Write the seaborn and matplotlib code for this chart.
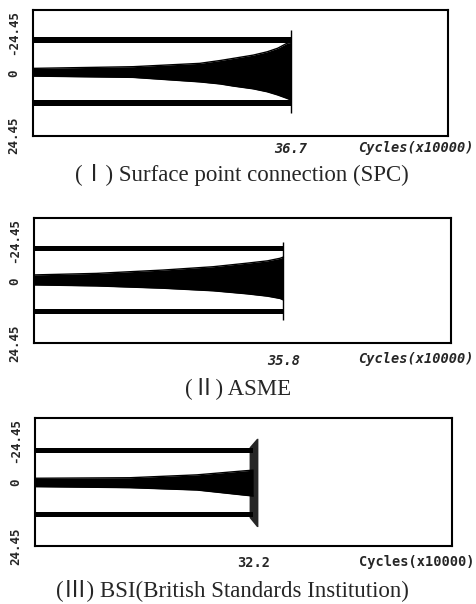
import matplotlib
matplotlib.use('Agg')
import matplotlib.pyplot as plt
import pandas as pd
import seaborn as sns

# --- data (cycles in x10000, strain trace envelopes) ---
spc_cycles = [0, 14.2, 23.7, 26.6, 28.4, 31.3, 33.3, 34.8, 36.1, 36.7]
spc_upper = [-1.75, -2.4, -3.7, -4.8, -5.6, -6.9, -8.2, -9.6, -11.5, -11.9]
spc_lower = [1.25, 1.75, 3.5, 4.3, 5.1, 6.2, 7.35, 8.6, 9.9, 10.6]
spc_top_band = [-13.8, -11.7]
spc_bottom_band = [10.6, 12.9]
spc_end_mark = [-16.6, 15.6]

asme_cycles = [0, 9.0, 18.5, 25.7, 30.6, 33.5, 35.3, 35.8]
asme_upper = [-2.3, -2.9, -4.2, -5.5, -6.9, -7.8, -8.8, -9.3]
asme_lower = [1.6, 2.0, 2.9, 3.9, 5.1, 6.0, 6.9, 7.5]
asme_top_band = [-13.8, -11.6]
asme_bottom_band = [10.9, 12.8]
asme_end_mark = [-15.3, 15.3]

bsi_cycles = [0, 14.0, 23.9, 30.7, 32.2]
bsi_upper = [-1.5, -1.7, -2.8, -4.3, -4.6]
bsi_lower = [1.7, 2.1, 3.0, 4.9, 5.3]
bsi_top_band = [-13.1, -11.1]
bsi_bottom_band = [11.4, 13.4]
bsi_flare_y = [-16.8, -13.5, 13.5, 17.0]
bsi_flare_left = [32.7, 31.6, 31.6, 32.7]
bsi_flare_right = [32.9, 32.9, 32.9, 32.9]

y_limit = 24.45
y_ticks = [-24.45, 0, 24.45]
y_tick_labels = ['-24.45', '0', '24.45']
x_unit_label = 'Cycles(x10000)'
captions = ['(Ⅰ) Surface point connection (SPC)',
            '(Ⅱ) ASME',
            '(Ⅲ) BSI(British Standards Institution)']

sns.set_style('white')
mono = 'DejaVu Sans Mono'
serif = ['Liberation Serif', 'Noto Sans CJK KR']

fig = plt.figure(figsize=(4.76, 6.04), dpi=100)

# axes boxes in figure fractions
boxes = [[0.0693, 0.7753, 0.8718, 0.2081],
         [0.0714, 0.4316, 0.8754, 0.2070],
         [0.0735, 0.0960, 0.8754, 0.2114]]
x_max = [59.0, 59.8, 61.5]
x_pad = [4.5, 7.5, 7.5]
unit_y = [0.755, 0.4056, 0.0695]
caption_pos = [(0.508, 0.710), (0.500, 0.358), (0.488, 0.023)]
italic = ['italic', 'italic', 'normal']


def draw_panel(ax, cycles, upper, lower, top_band, bottom_band, i):
    end = cycles[-1]
    for lo, hi in (top_band, bottom_band):
        ax.fill_between([0, end], lo, hi, color='black', lw=0)
    env = pd.DataFrame({'cycles': cycles, 'upper': upper, 'lower': lower})
    ax.fill_between(env['cycles'], env['upper'], env['lower'], color='black', lw=0)
    sns.lineplot(data=env, x='cycles', y='upper', ax=ax, color='black', lw=1)
    sns.lineplot(data=env, x='cycles', y='lower', ax=ax, color='black', lw=1)
    ax.set_xlabel('')
    ax.set_ylabel('')
    ax.set_xlim(0, x_max[i])
    ax.set_ylim(y_limit, -y_limit)

    ax.set_xticks([end])
    ax.set_xticklabels([f'{end:.1f}'], family=mono, fontsize=9.8,
                       fontstyle=italic[i], fontweight='bold')
    ax.set_yticks(y_ticks)
    ax.set_yticklabels(y_tick_labels, family=mono, fontsize=9, rotation=90,
                       fontweight='bold')
    for lab, va in zip(ax.get_yticklabels(), ['top', 'center', 'center']):
        lab.set_va(va)
    ax.tick_params(axis='x', length=0, pad=x_pad[i])
    ax.tick_params(axis='y', length=0, pad=9)
    for s in ax.spines.values():
        s.set_color('black')
        s.set_linewidth(1.5)

    fig.text(0.996, unit_y[i], x_unit_label, ha='right', va='center',
             family=mono, fontsize=9.8, fontstyle=italic[i], fontweight='bold')
    fig.text(caption_pos[i][0], caption_pos[i][1], captions[i], ha='center',
             va='center', family=serif, fontsize=16.5)


ax1 = fig.add_axes(boxes[0])
draw_panel(ax1, spc_cycles, spc_upper, spc_lower, spc_top_band, spc_bottom_band, 0)
ax1.vlines(spc_cycles[-1], spc_end_mark[0], spc_end_mark[1], color='black', lw=1)

ax2 = fig.add_axes(boxes[1])
draw_panel(ax2, asme_cycles, asme_upper, asme_lower, asme_top_band, asme_bottom_band, 1)
ax2.vlines(asme_cycles[-1], asme_end_mark[0], asme_end_mark[1], color='black', lw=1)

ax3 = fig.add_axes(boxes[2])
draw_panel(ax3, bsi_cycles, bsi_upper, bsi_lower, bsi_top_band, bsi_bottom_band, 2)
ax3.fill_betweenx(bsi_flare_y, bsi_flare_left, bsi_flare_right, color='black', lw=0, alpha=0.85)

fig.savefig('out.png', dpi=100)
